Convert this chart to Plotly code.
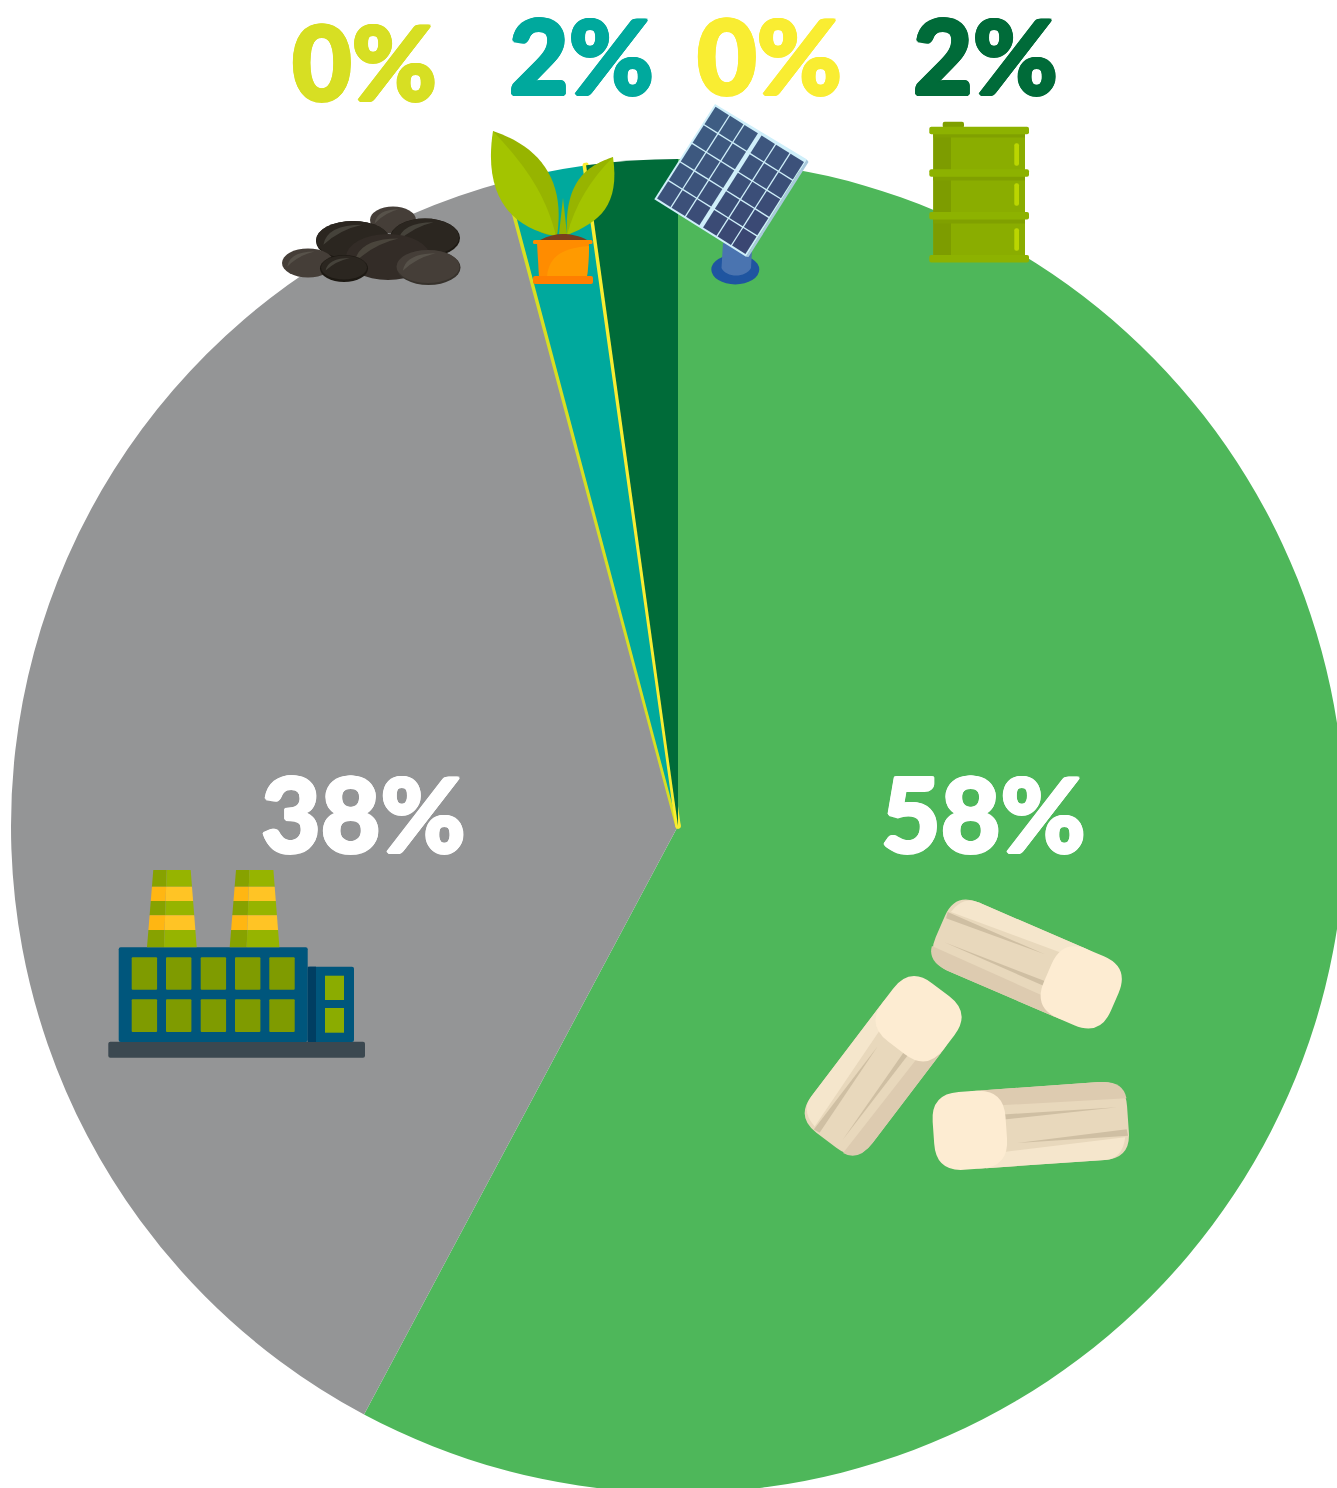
import math
import plotly.graph_objects as go

# Share of each energy source, clockwise from twelve o'clock
sources = ["Biomass", "Natural gas", "Coal", "Hydro and biofuel", "Solar", "Oil"]
shares = [57.8, 38.05, 0.02, 1.91, 0.02, 2.2]
colors = ["#4EB75A", "#949596", "#D7DF23", "#00A99D", "#F9ED32", "#006B39"]
outline_widths = [0, 0, 5.5, 0, 5.5, 0]
label_colors = ["#FFFFFF", "#FFFFFF", "#D7DF23", "#00A99D", "#F9ED32", "#006B39"]
label_centres = [(983, 812), (363, 812), (364, 60), (581, 54), (769, 54), (985, 54)]

W, H = 1356, 1500
RADIUS = 667
CX, CY = 678, 826
FONT = "Lato"
FONT_SIZE = 103
FONT_BOLDEN = 1.5

shapes = []


def X(x):
    return x / W


def Y(y):
    return 1 - y / H


def pt(p):
    return f"{X(p[0]):.6f},{Y(p[1]):.6f}"


def add_path(d, fill):
    shapes.append(dict(type="path", xref="paper", yref="paper", path=d,
                       fillcolor=fill, line=dict(width=0), layer="above"))


def poly(points, fill):
    add_path("M" + " L".join(pt(p) for p in points) + " Z", fill)


def curve(start, segments, fill):
    # Closed outline of cubic segments, each (c1, c2, end)
    d = "M" + pt(start)
    for c1, c2, end in segments:
        d += f" C{pt(c1)} {pt(c2)} {pt(end)}"
    add_path(d + " Z", fill)


def rect(x0, y0, x1, y1, fill):
    poly([(x0, y0), (x1, y0), (x1, y1), (x0, y1)], fill)


def ellipse(cx, cy, rx, ry, fill):
    shapes.append(dict(type="circle", xref="paper", yref="paper",
                       x0=X(cx - rx), x1=X(cx + rx), y0=Y(cy + ry), y1=Y(cy - ry),
                       fillcolor=fill, line=dict(width=0), layer="above"))


def rounded(x0, y0, x1, y1, r, fill, tf=lambda p: p):
    # Rounded rectangle, optionally passed through a transform
    d = "M" + pt(tf((x0 + r, y0)))
    d += " L" + pt(tf((x1 - r, y0))) + " Q" + pt(tf((x1, y0))) + " " + pt(tf((x1, y0 + r)))
    d += " L" + pt(tf((x1, y1 - r))) + " Q" + pt(tf((x1, y1))) + " " + pt(tf((x1 - r, y1)))
    d += " L" + pt(tf((x0 + r, y1))) + " Q" + pt(tf((x0, y1))) + " " + pt(tf((x0, y1 - r)))
    d += " L" + pt(tf((x0, y0 + r))) + " Q" + pt(tf((x0, y0))) + " " + pt(tf((x0 + r, y0))) + " Z"
    add_path(d, fill)


def pebble(cx, cy, rx, ry, base, shine):
    ellipse(cx, cy, rx, ry, base)
    d = ("M" + pt((cx - rx * 0.8, cy + ry * 0.25))
         + " Q" + pt((cx - rx * 0.7, cy - ry * 0.8)) + " " + pt((cx + rx * 0.25, cy - ry * 0.8))
         + " Q" + pt((cx - rx * 0.35, cy - ry * 0.55)) + " " + pt((cx - rx * 0.8, cy + ry * 0.25)) + " Z")
    add_path(d, shine)


def draw_coal():
    pebble(393, 220, 23, 13.5, "#453E38", "#57524A")
    ellipse(353, 241, 37, 20, "#1D1913")
    pebble(353, 240, 37, 19, "#2B2620", "#45423A")
    ellipse(425, 238, 35, 19.5, "#1D1913")
    pebble(425, 237, 34, 18.5, "#2B2620", "#45423A")
    pebble(388, 257, 42, 23, "#332C27", "#4A453C")
    pebble(308, 263, 26, 14.5, "#453E38", "#57524A")
    ellipse(344, 268.5, 24, 13.5, "#1D1913")
    pebble(344, 267.5, 23, 12, "#2B2620", "#45423A")
    ellipse(428.5, 267.5, 32, 17.5, "#37322C")
    pebble(428, 266.5, 31.5, 16.5, "#453E38", "#57524A")


def draw_plant():
    curve((493, 131), [((538, 146), (566, 178), (557, 236)),
                       ((550, 236), (498, 232), (493, 131))], "#97B400")
    curve((493, 131), [((520, 160), (545, 190), (556, 236)),
                       ((510, 228), (483, 195), (493, 131))], "#A3C400")
    curve((613, 157), [((590, 165), (564, 178), (567, 235)),
                       ((572, 235), (612, 200), (613, 157))], "#97B400")
    curve((613, 157), [((590, 180), (575, 205), (567, 235)),
                       ((600, 222), (620, 205), (613, 157))], "#A3C400")
    poly([(559, 234), (563, 198), (567, 234)], "#97B400")
    curve((540, 240), [((548, 236), (556, 234), (563, 234)),
                       ((570, 234), (580, 236), (587, 240))], "#7A3E1D")
    poly([(537, 243), (589, 243), (587, 277), (539, 277)], "#FF8C00")
    curve((547, 276), [((549, 258), (560, 248), (589, 246)), ((589, 260), (588, 270), (587, 276))], "#FF9A00")
    rounded(533, 240, 592.5, 244, 1.5, "#FF8C00")
    rounded(533, 276, 593, 284, 2, "#FF7F00")


def draw_panel():
    ellipse(735.3, 269.5, 24, 15, "#1F55A0")
    curve((723, 243), [((723, 243), (723, 243), (721.5, 268)),
                       ((726, 278), (746, 278), (751, 268)),
                       ((751, 268), (751, 268), (752, 250))], "#4A74B0")
    left, top, right, bottom = (654.3, 199.3), (715, 104), (806.7, 159.3), (746, 256.7)
    poly([right, (808.5, 162), (748.5, 257), bottom], "#A9C9DC")
    poly([left, top, right, bottom], "#CFEFFA")

    def at(u, v):
        # u runs along the short edge, v along the long one
        return (left[0] + u * (top[0] - left[0]) + v * (bottom[0] - left[0]),
                left[1] + u * (top[1] - left[1]) + v * (bottom[1] - left[1]))

    margin, band, gap = 0.012, 0.028, 0.006
    half = (1 - 2 * margin - band) / 2
    row_size = (1 - 2 * margin) / 5
    for side in range(2):
        v0 = margin + side * (half + band)
        for col in range(3):
            for row in range(5):
                u0 = margin + row * row_size
                u1 = u0 + row_size
                a0 = v0 + col * half / 3
                a1 = a0 + half / 3
                # cells brighten toward the upper right of the panel
                mix = 0.5 * u0 + 0.5 * (1 - a0)
                shade = (int(0x3A + 5 * mix), int(0x44 + 0x1D * mix), int(0x70 + 0x16 * mix))
                poly([at(u0 + gap, a0 + gap), at(u1 - gap, a0 + gap),
                      at(u1 - gap, a1 - gap), at(u0 + gap, a1 - gap)],
                     "#%02X%02X%02X" % shade)


def draw_barrel():
    rounded(942.7, 121.7, 964, 128, 2, "#7F9F00")
    rect(933.3, 133, 1025, 257, "#8AAD00")
    rect(933.3, 133, 951, 257, "#7D9C00")
    for y in (133, 176, 219):
        rect(933.3, y, 1025, y + 4.5, "#80A000")
    for y in (126.7, 169.3, 212, 255):
        rounded(929.3, y, 1029, y + 7.5, 2, "#8DB200")
    for y in (143.3, 183.3, 228.3):
        rounded(1014.3, y, 1019, y + 22.4, 2, "#BBD600")


def draw_factory():
    rounded(108.3, 1041.7, 365, 1057.7, 2, "#3B4850")
    rounded(118.7, 947.3, 307.7, 1042, 2, "#00567C")
    rounded(307.7, 966.7, 354, 1042, 2, "#00567C")
    rect(307.7, 966.7, 316, 1042, "#003E62")
    for x0 in (131.7, 166, 200.7, 235, 269.3):
        for y0, y1 in ((957.3, 989.7), (999.3, 1032)):
            rounded(x0, y0, x0 + 25.4, y1, 1, "#7F9B00")
    for y0, y1 in ((975.7, 1000), (1008, 1032.7)):
        rect(325, y0, 344, y1, "#8BAC00")

    def edge(side, y, dx):
        # Chimney outline tapers from 147..196.7 at the foot to 153.3..190.7 at the top
        t = (y - 870) / (947.3 - 870)
        left_x = 153.3 + t * (147 - 153.3)
        right_x = 190.7 + t * (196.7 - 190.7)
        split = 166.7 + t * (164 - 166.7)
        return dx + {"l": left_x, "r": right_x, "m": split}[side]

    for dx in (0, 82.7):
        bands = [(870, 886.7, False), (886.7, 901, True), (901, 915.3, False),
                 (915.3, 930, True), (930, 947.3, False)]
        for y0, y1, stripe in bands:
            dark, light = ("#FFB612", "#FFC425") if stripe else ("#87A200", "#96B400")
            poly([(edge("l", y0, dx), y0), (edge("m", y0, dx), y0), (edge("m", y1, dx), y1), (edge("l", y1, dx), y1)], dark)
            poly([(edge("m", y0, dx), y0), (edge("r", y0, dx), y0), (edge("r", y1, dx), y1), (edge("m", y1, dx), y1)], light)


def draw_log(cx, cy, angle, length, width):
    c, s = math.cos(math.radians(angle)), math.sin(math.radians(angle))

    def tf(p):
        return (cx + p[0] * c - p[1] * s, cy + p[0] * s + p[1] * c)

    L, Wd = length / 2, width / 2
    rounded(-L, -Wd, L - 20, Wd, 26, "#E8D8BC", tf)
    # lit upper band of the bark
    d = ("M" + pt(tf((-L + 4, -17.7))) + " L" + pt(tf((L - 50, -25))) + " L" + pt(tf((L - 50, -Wd)))
         + " L" + pt(tf((-L + 26, -Wd))) + " Q" + pt(tf((-L + 8, -Wd))) + " " + pt(tf((-L + 4, -17.7))) + " Z")
    add_path(d, "#F5E6CC")
    # shaded lower band
    d = ("M" + pt(tf((-L, 21))) + " L" + pt(tf((L - 50, 23))) + " L" + pt(tf((L - 50, Wd)))
         + " L" + pt(tf((-L + 26, Wd))) + " Q" + pt(tf((-L + 2, Wd))) + " " + pt(tf((-L, 21))) + " Z")
    add_path(d, "#DDCBB0")
    # grain streaks
    poly([tf((-L + 1, -16.5)), tf((-L + 2, -10)), tf((L - 83, -16))], "#CFBFA3")
    poly([tf((L - 60, 8)), tf((L - 60, 13.5)), tf((-L + 10, 12.7))], "#CFBFA3")
    rounded(L - 73, -Wd, L, Wd, 28, "#FDECD2", tf)


def bolden(col):
    # Thickens the glyphs with a tight outline of the same colour
    b = FONT_BOLDEN
    d = round(b * 0.7, 2)
    offsets = [(b, 0), (-b, 0), (0, b), (0, -b), (d, d), (-d, d), (d, -d), (-d, -d)]
    return ", ".join(f"{x}px {y}px 0 {col}" for x, y in offsets)


draw_coal()
draw_plant()
draw_panel()
draw_barrel()
draw_factory()
draw_log(1027.5, 964.3, 23.3, 190, 75)
draw_log(883.5, 1065, -52.8, 189, 77)
draw_log(1030.7, 1126, 176, 195, 78)

annotations = [
    dict(text=f"{round(v)}%", x=X(pos[0]), y=Y(pos[1]), xref="paper", yref="paper",
         xanchor="center", yanchor="middle", showarrow=False,
         font=dict(family=FONT, size=FONT_SIZE, color=col, weight=900, shadow=bolden(col)))
    for v, pos, col in zip(shares, label_centres, label_colors)
]

fig = go.Figure(go.Pie(
    labels=sources, values=shares, sort=False, direction="clockwise", rotation=0,
    textinfo="none", hoverinfo="skip", showlegend=False,
    marker=dict(colors=colors, line=dict(color=colors, width=outline_widths)),
    domain=dict(x=[(CX - RADIUS) / W, (CX + RADIUS) / W],
                y=[1 - (CY + RADIUS) / H, 1 - (CY - RADIUS) / H]),
))
fig.update_layout(width=W, height=H, margin=dict(l=0, r=0, t=0, b=0), autosize=False,
                  paper_bgcolor="white", plot_bgcolor="white",
                  shapes=shapes, annotations=annotations)
fig.write_html("out.html", config=dict(displayModeBar=False),
               post_script="document.documentElement.style.overflow='hidden';document.body.style.overflow='hidden';")
